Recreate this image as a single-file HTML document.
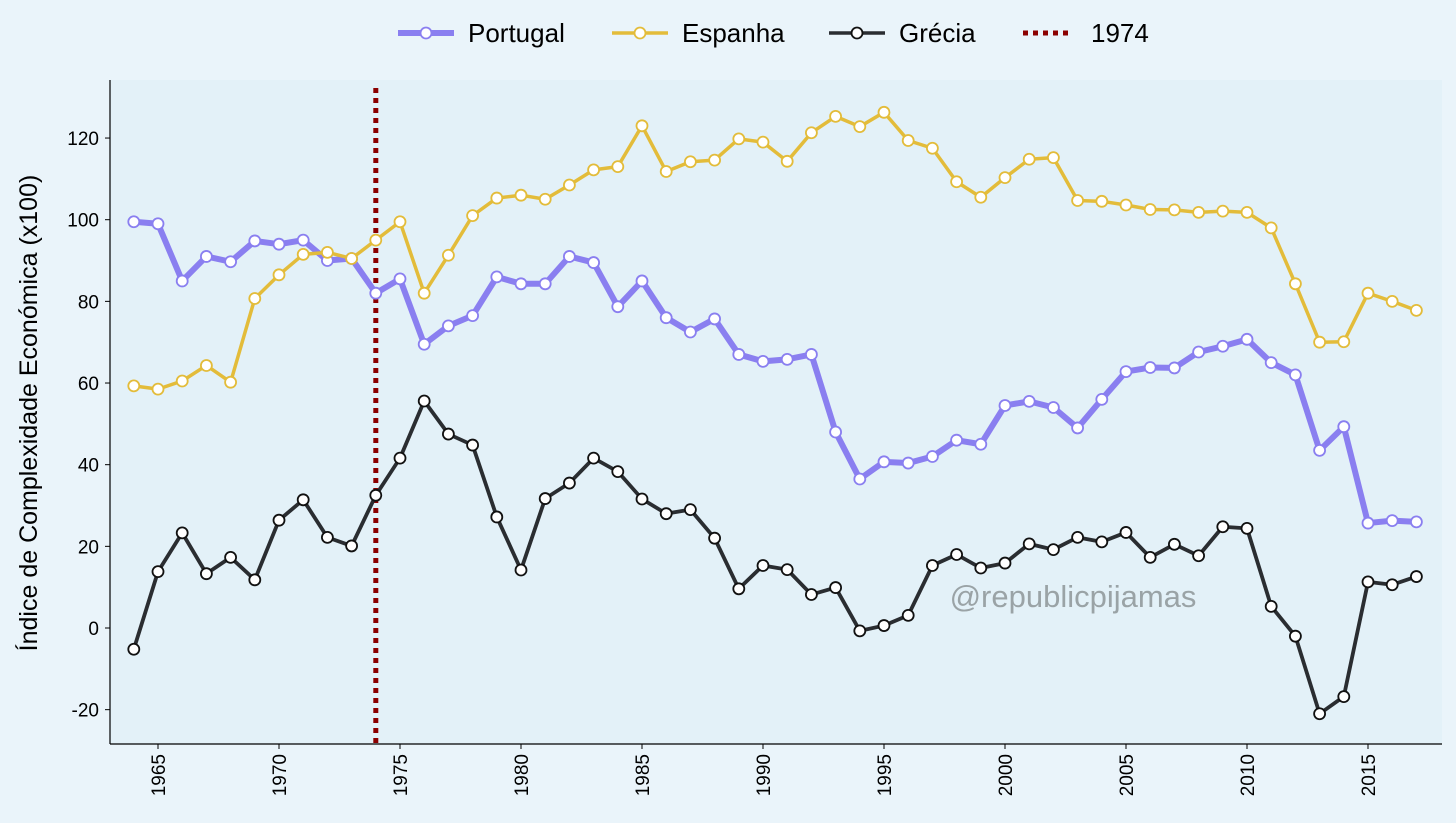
<!DOCTYPE html>
<html><head><meta charset="utf-8"><style>
body{margin:0;background:#eaf4fa;}
svg{display:block;font-family:"Liberation Sans",sans-serif;}
</style></head><body>
<svg id="c" width="1456" height="823">
<rect width="1456" height="823" fill="#eaf4fa"/>
<rect x="110" y="80" width="1332" height="664" fill="#e3f1f8"/>
<g id="g"></g>
</svg>
<script>
const years=[];for(let y=1964;y<=2017;y++)years.push(y);
const portugal=[99.5,99,85,91,89.7,94.8,94,95,90,90.5,82,85.5,69.5,74,76.5,86,84.3,84.3,91,89.5,78.7,85,76,72.5,75.7,67,65.3,65.8,67,48,36.5,40.7,40.4,42,46,45,54.5,55.5,54,49,56,62.8,63.8,63.7,67.6,69,70.7,65,62,43.5,49.3,25.7,26.3,26];
const espanha=[59.3,58.5,60.5,64.3,60.2,80.7,86.5,91.5,92,90.5,95,99.5,82,91.3,101,105.3,106,105,108.5,112.2,113,123,111.8,114.2,114.6,119.8,119,114.3,121.3,125.3,122.8,126.3,119.4,117.5,109.3,105.5,110.3,114.8,115.2,104.7,104.5,103.6,102.5,102.4,101.8,102.1,101.8,98,84.3,70,70.1,82,80,77.8];
const grecia=[-5.2,13.8,23.3,13.3,17.3,11.8,26.4,31.4,22.2,20.1,32.5,41.6,55.6,47.5,44.8,27.2,14.2,31.7,35.5,41.6,38.3,31.6,28,29,22,9.6,15.3,14.3,8.2,9.9,-0.7,0.6,3.1,15.3,18,14.7,15.9,20.6,19.2,22.2,21.1,23.4,17.3,20.5,17.7,24.8,24.4,5.3,-2,-21,-16.8,11.3,10.6,12.6];
const yTicks=[-20,0,20,40,60,80,100,120];
const xTicks=[1965,1970,1975,1980,1985,1990,1995,2000,2005,2010,2015];
const marker=1974;
const X=y=>158+(y-1965)*24.2, Y=v=>628-v*4.083;
const NS="http://www.w3.org/2000/svg",g=document.getElementById('g');
function el(t,a,p){const e=document.createElementNS(NS,t);for(const k in a)e.setAttribute(k,a[k]);(p||g).appendChild(e);return e;}
let e=el('line',{x1:110,y1:80,x2:110,y2:744,stroke:'#000','stroke-width':1.2});


e=el('line',{x1:110,y1:744,x2:1442,y2:744,stroke:'#000','stroke-width':1.2});


yTicks.forEach(v=>{el('line',{x1:105,x2:110,y1:Y(v),y2:Y(v),stroke:'#000'});
 const t=el('text',{x:99,y:Y(v)+7,'text-anchor':'end','font-size':19});t.textContent=v;
 
 });
xTicks.forEach(v=>{el('line',{x1:X(v),x2:X(v),y1:744,y2:749,stroke:'#000'});
 const t=el('text',{x:0,y:0,'text-anchor':'end','font-size':19,transform:`translate(${X(v)+7},754) rotate(-90)`});t.textContent=v;
 
 });
e=el('text',{x:0,y:0,'text-anchor':'middle','font-size':25,transform:'translate(37,413) rotate(-90)'});e.textContent='Índice de Complexidade Económica (x100)';


e=el('text',{x:1073,y:607,'text-anchor':'middle','font-size':31,fill:'#9aa3a6'});e.textContent='@republicpijamas';


e=el('line',{x1:X(marker),x2:X(marker),y1:88,y2:744,stroke:'#8b0000','stroke-width':5,'stroke-dasharray':'5,5'});


const series=[[portugal,'#8a7ff0',6,'#8a7ff0','portugal'],[espanha,'#e3bc3a',3.5,'#e3bc3a','espanha'],[grecia,'#2a2d31',3.8,'#111','grecia']];
series.forEach(([d,c,w,mc,n])=>{
 const p=el('polyline',{points:d.map((v,i)=>X(years[i])+','+Y(v)).join(' '),fill:'none',stroke:c,'stroke-width':w,'stroke-linejoin':'round'});
 
 
 d.forEach((v,i)=>{const m=el('circle',{cx:X(years[i]),cy:Y(v),r:5.5,fill:'#fff',stroke:mc,'stroke-width':1.8});
  
  });
});
const leg=[['Portugal','#8a7ff0',6,'#8a7ff0',398],['Espanha','#e3bc3a',3.5,'#e3bc3a',612],['Grécia','#2a2d31',3.5,'#111',829]];
leg.forEach(([t,c,w,mc,x])=>{const gg=el('g',{});
 
 
 el('line',{x1:x,x2:x+56,y1:33,y2:33,stroke:c,'stroke-width':w},gg);
 el('circle',{cx:x+28,cy:33,r:5.5,fill:'#fff',stroke:mc,'stroke-width':1.8},gg);
 const tx=el('text',{x:x+70,y:42,'font-size':26},gg);tx.textContent=t;});
const lg=el('g',{});


el('line',{x1:1023,x2:1073,y1:33,y2:33,stroke:'#8b0000','stroke-width':5,'stroke-dasharray':'5,5'},lg);
el('text',{x:1091,y:42,'font-size':26},lg).textContent='1974';
</script>
</body></html>
